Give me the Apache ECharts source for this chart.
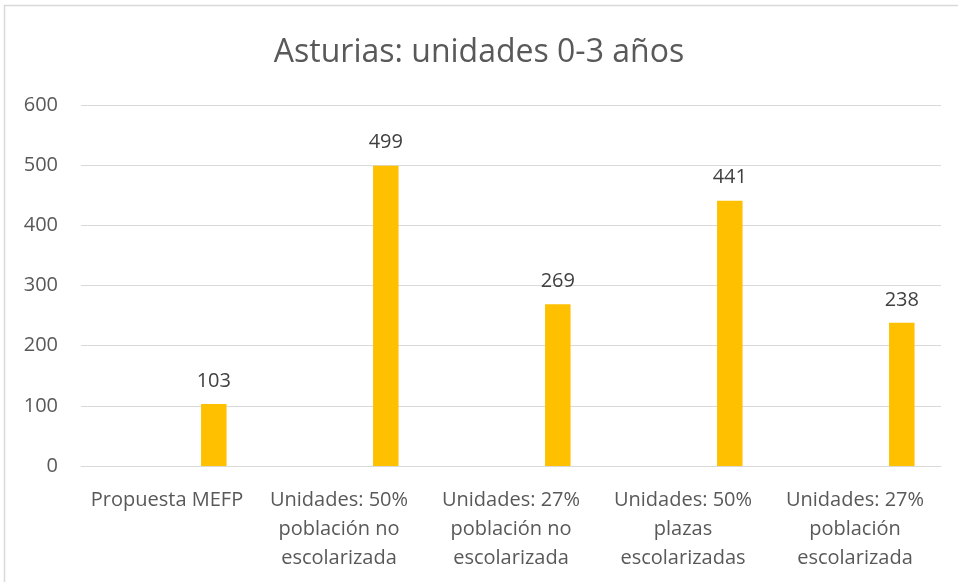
<!DOCTYPE html>
<html>
<head>
<meta charset="utf-8">
<style>
  html, body { margin: 0; padding: 0; background: #ffffff; }
  #chart { width: 958px; height: 582px; }
</style>
<script src="https://cdn.jsdelivr.net/npm/echarts@6/dist/echarts.min.js"></script>
</head>
<body>
<div id="chart"></div>
<script>
const titleText = 'Asturias: unidades 0-3 años';
const categories = [
  'Propuesta MEFP',
  'Unidades: 50%\npoblación no\nescolarizada',
  'Unidades: 27%\npoblación no\nescolarizada',
  'Unidades: 50%\nplazas\nescolarizadas',
  'Unidades: 27%\npoblación\nescolarizada'
];
const unidades = [103, 499, 269, 441, 238];
const emptySeries = [null, null, null, null, null];
const yTicks = { min: 0, max: 600, interval: 100 };

const chart = echarts.init(document.getElementById('chart'));
chart.setOption({
  animation: false,
  backgroundColor: '#ffffff',
  textStyle: { fontFamily: 'Open Sans' },
  title: {
    text: titleText,
    left: 'center',
    top: 32,
    textStyle: { fontFamily: 'Open Sans', fontSize: 32, fontWeight: 'normal', color: '#595959' }
  },
  graphic: [{
    type: 'rect',
    shape: { x: 4.5, y: 5.5, width: 1000, height: 1000 },
    style: { fill: 'none', stroke: '#D9D9D9', lineWidth: 1.5 },
    silent: true
  }],
  grid: { left: 81, right: 17, top: 105, bottom: 116 },
  xAxis: {
    type: 'category',
    data: categories,
    axisLine: { lineStyle: { color: '#D9D9D9', width: 1 } },
    axisTick: { show: false },
    axisLabel: {
      interval: 0,
      color: '#595959',
      fontSize: 20,
      lineHeight: 29,
      margin: 20,
      fontFamily: 'Open Sans'
    }
  },
  yAxis: {
    type: 'value',
    min: yTicks.min,
    max: yTicks.max,
    interval: yTicks.interval,
    axisLine: { show: false },
    axisTick: { show: false },
    splitLine: { lineStyle: { color: '#D9D9D9', width: 1 } },
    axisLabel: { color: '#595959', fontSize: 20, margin: 23, fontFamily: 'Open Sans' }
  },
  series: [
    {
      type: 'bar',
      data: emptySeries,
      barWidth: 25.5,
      barGap: '267%'
    },
    {
      type: 'bar',
      data: unidades,
      barWidth: 25.5,
      barGap: '267%',
      itemStyle: { color: '#FFC000' },
      label: {
        show: true,
        position: 'top',
        distance: 13,
        color: '#404040',
        fontSize: 20,
        fontFamily: 'Open Sans'
      }
    }
  ]
});
</script>
</body>
</html>
